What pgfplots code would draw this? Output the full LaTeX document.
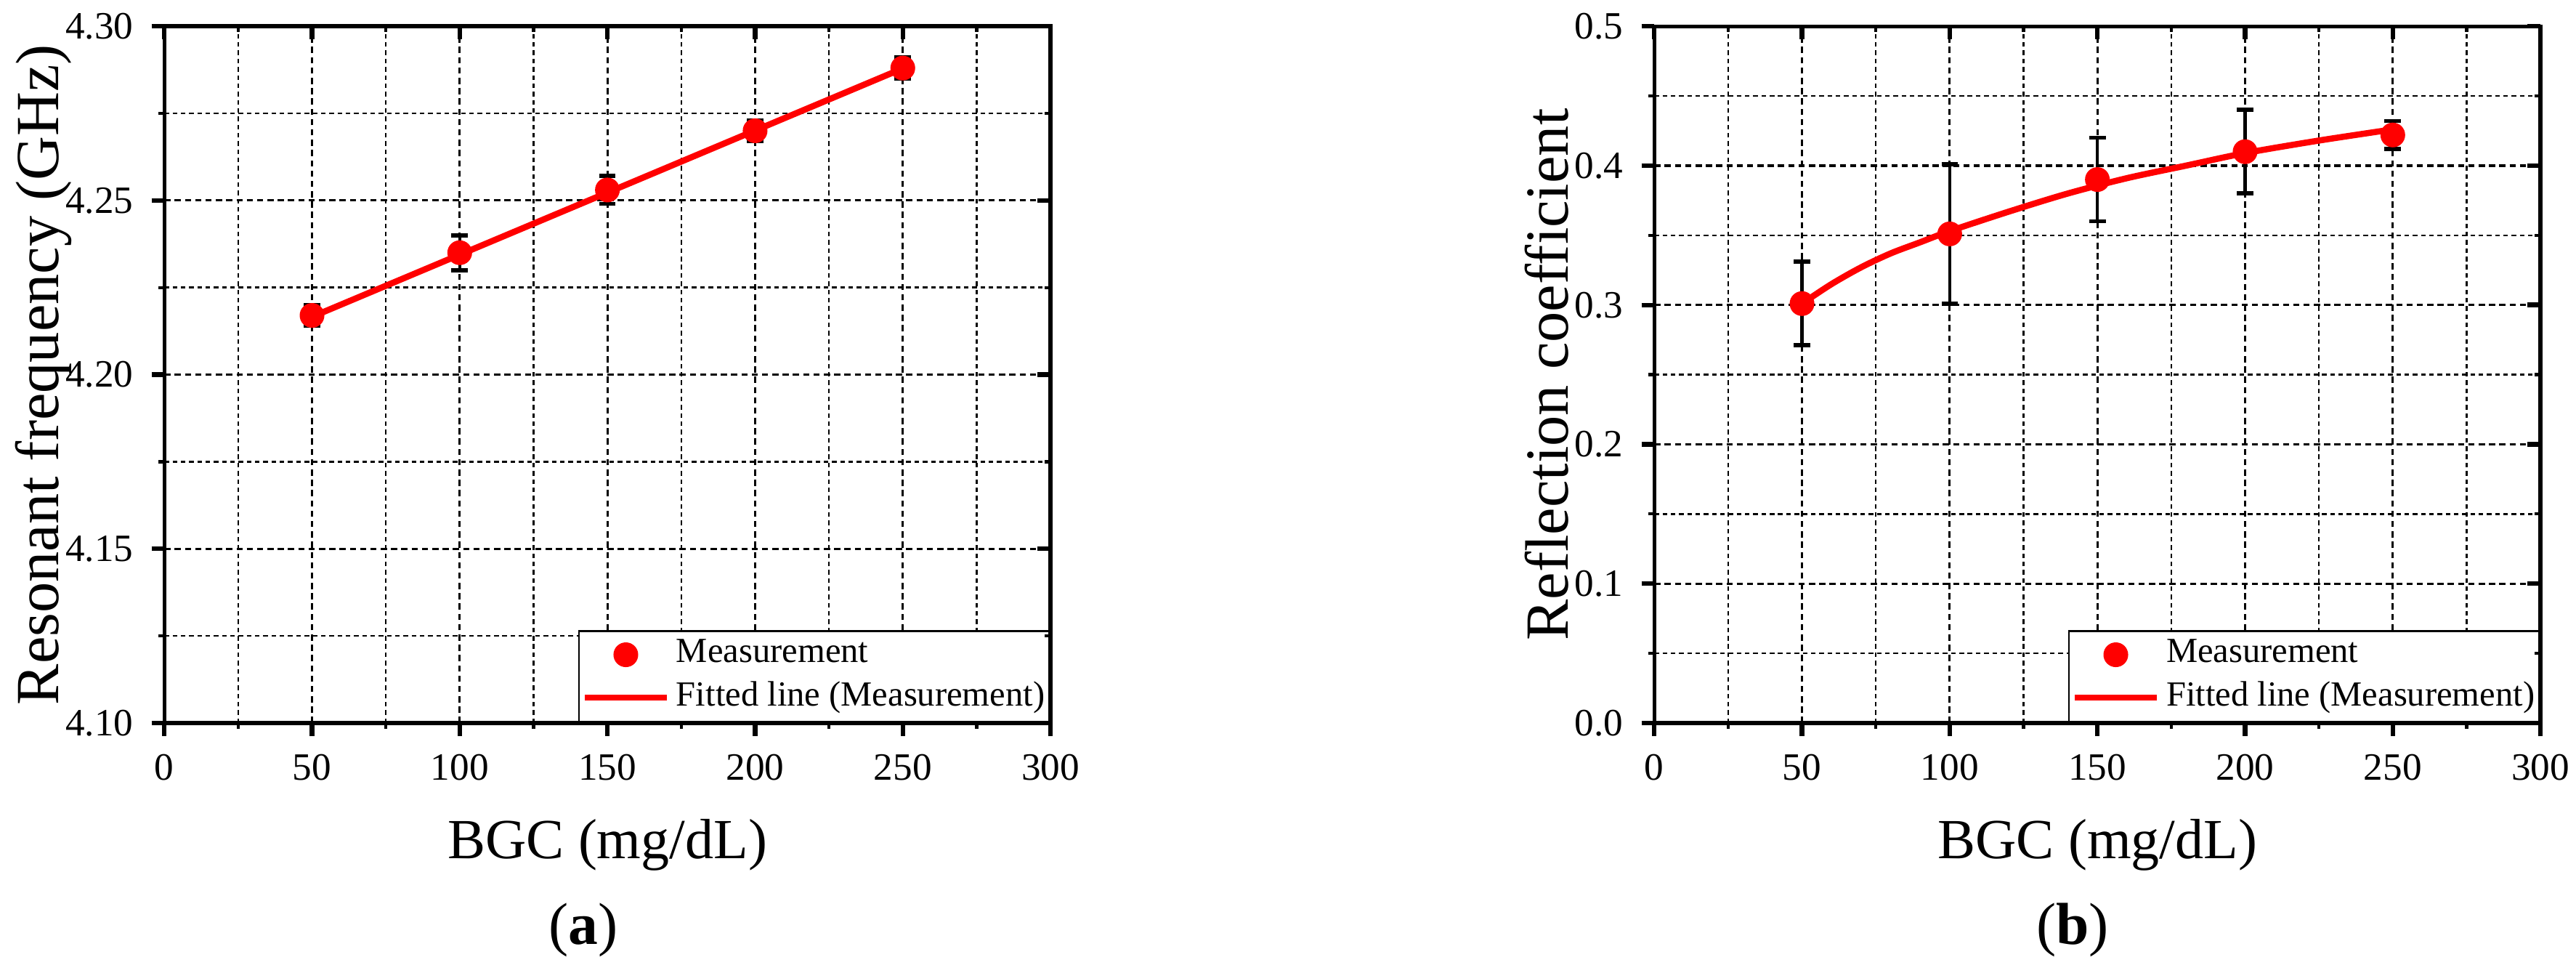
\documentclass[border=0pt]{standalone}
\usepackage{pgfplots}
\pgfplotsset{compat=1.18}
\usepackage{fontspec}
\setmainfont{Liberation Serif}

\pgfplotsset{
  bgcbox/.style={
    scale only axis, width=172pt, height=135.2pt,
    xmin=0, xmax=300, xtick={0,50,...,300}, minor x tick num=1,
    minor y tick num=1,
    axis line style={line width=0.75pt},
    major tick length=2.5pt, minor tick length=1.1pt,
    major tick style={line width=0.9pt, black},
    minor tick style={line width=0.6pt, black},
  },
  bgcaxis/.style={
    bgcbox,
    tick align=outside, xtick pos=left, ytick pos=left,
    grid=both,
    major grid style={black, line width=0.45pt, dash pattern=on 1.2pt off 0.8pt},
    minor grid style={black, line width=0.35pt, dash pattern=on 0.9pt off 0.7pt},
    tick label style={font=\fontsize{7.5}{9}\selectfont},
    /pgf/number format/assume math mode=true,
    xlabel={BGC (mg/dL)},
    every axis x label/.style={at={(axis description cs:0.5,-0.175)}, anchor=center,
      font=\fontsize{11}{13}\selectfont},
    legend style={at={(1,0)}, anchor=south east, draw=black, line width=0.4pt,
      fill=white, font=\fontsize{6.85}{8}\selectfont,
      inner xsep=0.5pt, inner ysep=0.5pt, column sep=0.8pt,
      nodes={inner xsep=0.4pt, inner ysep=1.1pt}},
    legend image code/.code={
      \draw[mark repeat=2, mark phase=2, #1]
        plot coordinates {(0pt,0pt) (8pt,0pt) (16pt,0pt)};},
    legend cell align=left,
    reverse legend,
  },
  ylab/.style={every axis y label/.style={at={(axis description cs:#1,0.5)},
      rotate=90, anchor=center, font=\fontsize{11.9}{14}\selectfont}},
  topaxis/.style={
    bgcbox,
    tick align=inside, xtick pos=right, ytick pos=right,
    xticklabels={}, yticklabels={},
  },
  meas/.style={only marks, mark=*, mark size=2.2pt, red,
    mark options={fill=red, draw=red},
    error bars/.cd, y dir=both, y explicit,
    error bar style={black, line width=0.6pt},
    error mark options={rotate=90, black, mark size=1.6pt, line width=0.8pt}},
  fit/.style={red, line width=1.2pt, no marks},
}

\pgfplotstableread{
x   y      e
50  4.217  0.003
100 4.235  0.005
150 4.253  0.004
200 4.270  0.003
250 4.288  0.003
}\freqdata

\pgfplotstableread{
x   y      e
50  0.301  0.030
100 0.351  0.050
150 0.390  0.030
200 0.410  0.030
250 0.422  0.010
}\refldata

\begin{document}
\begin{tikzpicture}
\path[use as bounding box] (0,0) rectangle (500pt,188.8pt);

% (a) resonant frequency
\begin{axis}[bgcaxis, ylab=-0.136, at={(31.9pt,48.5pt)}, anchor=south west,
  ymin=4.10, ymax=4.30, ytick={4.10,4.15,...,4.31},
  yticklabel style={/pgf/number format/.cd, fixed, fixed zerofill, precision=2},
  ylabel={Resonant frequency (GHz)}]
\addplot[fit] coordinates {(50,4.2166) (250,4.2879)};
\addlegendentry{Fitted line (Measurement)}
\addplot[meas] table[x=x, y=y, y error=e] {\freqdata};
\addlegendentry{Measurement}
\end{axis}
\begin{axis}[topaxis, at={(31.9pt,48.5pt)}, anchor=south west,
  ymin=4.10, ymax=4.30, ytick={4.10,4.15,...,4.31}]
\end{axis}

% (b) reflection coefficient
\begin{axis}[bgcaxis, ylab=-0.121, at={(321.1pt,48.5pt)}, anchor=south west,
  ymin=0, ymax=0.5, ytick={0,0.1,...,0.51},
  yticklabel style={/pgf/number format/.cd, fixed, fixed zerofill, precision=1},
  ylabel={Reflection coefficient}]
\addplot[fit, smooth] coordinates {
  (50,0.301) (60,0.315) (70,0.327) (80,0.337) (90,0.345) (100,0.353)
  (120,0.367) (140,0.380) (160,0.391) (180,0.400) (200,0.409)
  (225,0.418) (250,0.426)};
\addlegendentry{Fitted line (Measurement)}
\addplot[meas] table[x=x, y=y, y error=e] {\refldata};
\addlegendentry{Measurement}
\end{axis}
\begin{axis}[topaxis, at={(321.1pt,48.5pt)}, anchor=south west,
  ymin=0, ymax=0.5, ytick={0,0.1,...,0.51}]
\end{axis}

\node[font=\fontsize{11.5}{13}\selectfont] at (113.2pt,8.3pt) {(\textbf{a})};
\node[font=\fontsize{11.5}{13}\selectfont] at (402.3pt,8.3pt) {(\textbf{b})};
\end{tikzpicture}
\end{document}
